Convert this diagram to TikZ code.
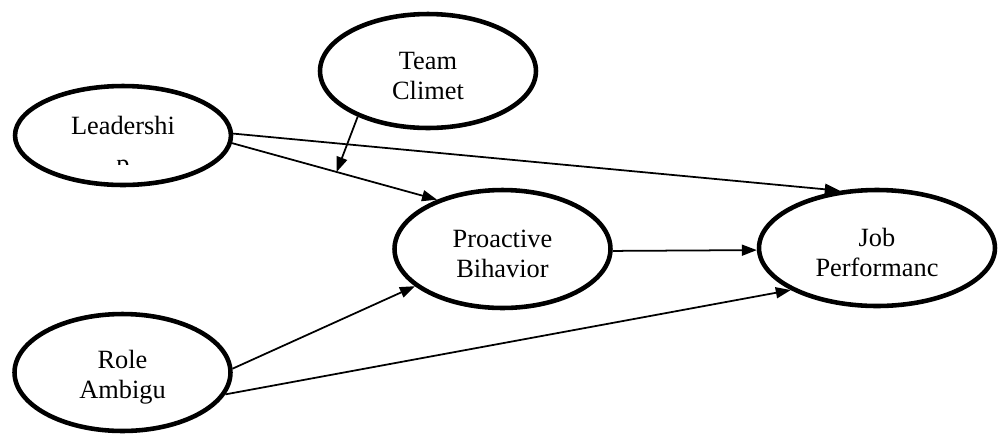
\documentclass[tikz,border=0pt]{standalone}
\usepackage{fontspec}
\setmainfont{Liberation Serif}
\usepackage{trimclip}
\usepackage{tikz}
\usetikzlibrary{shapes.geometric}
\usetikzlibrary{arrows.meta}

\newcommand{\alto}{\rule{0pt}{15.5pt}}

\begin{document}
\begin{tikzpicture}[x=0.02cm, y=-0.02cm,
    oval/.style={draw, ellipse, line width=2.6pt, inner sep=0pt, align=center,
      font=\fontsize{15}{17}\selectfont},
    flecha/.style={-{Triangle[length=0.3cm, width=0.22cm]}, line width=1pt}]
            \useasboundingbox (0,0) rectangle (1002,434);
            % Nodos
            \node[oval, minimum width=4.32cm, minimum height=2.28cm] (team) at (428,71) {\alto Team\\Climet};
            \node[oval, minimum width=4.32cm, minimum height=1.98cm] (lead) at (123,135.5) {\alto Leadershi\\\clipbox{0pt 7.8pt 0pt 0pt}{p}};
            \node[oval, minimum width=4.32cm, minimum height=2.36cm] (pro) at (502.5,249) {\alto Proactive\\Bihavior};
            \node[oval, minimum width=4.72cm, minimum height=2.32cm] (job) at (877,248) {\alto Job\\Performanc};
            \node[oval, minimum width=4.32cm, minimum height=2.34cm] (role) at (122.5,372.5) {\alto Role\\Ambigu};

            % Aristas
            \draw[flecha] (lead.-4) -- coordinate[pos=0.51] (mid) (pro.143);
            \draw[flecha] (team.213) -- (mid);
            \draw[flecha] (lead.1) -- (job.123);
            \draw[flecha] (pro.-1) -- (job.181);
            \draw[flecha] (role.2) -- (pro.203);
            \draw[flecha] (role.-12) -- (job.206);
          \end{tikzpicture}
\end{document}
